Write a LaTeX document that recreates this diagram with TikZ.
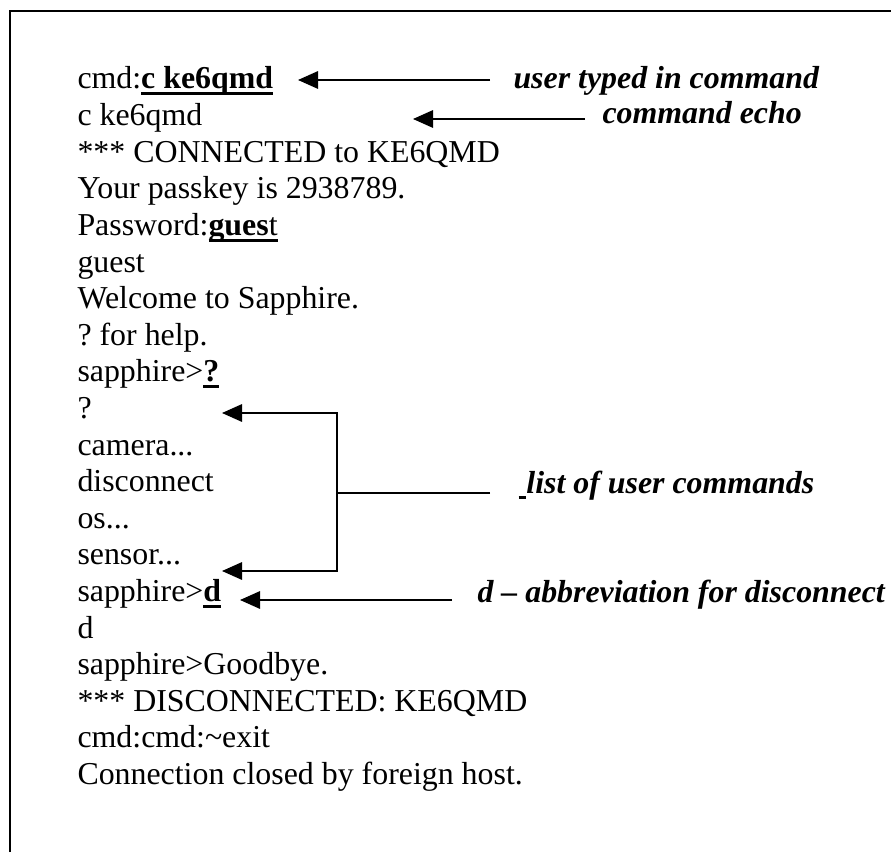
\documentclass[tikz,border=0pt]{standalone}
\usepackage{fontspec}
\setmainfont{Liberation Serif}
\usetikzlibrary{arrows.meta}
\frenchspacing
% heavy underline that runs through descenders
\newcommand\wul[1]{\setbox0\hbox{#1}\rlap{\rule[-2.5pt]{\wd0}{1.25pt}}\box0}
\begin{document}
\begin{tikzpicture}[x=0.4pt,y=-0.4pt,
  line/.style={anchor=base west,inner sep=0pt,font=\fontsize{12.75pt}{15pt}\selectfont},
  note/.style={line,font=\fontsize{12.75pt}{15pt}\selectfont\bfseries\itshape},
  arr/.style={line width=0.6pt,-{Triangle[length=8pt,width=7pt]}},
  link/.style={line width=0.6pt},
  frame/.style={line width=0.8pt}]
\useasboundingbox (0,0) rectangle (891,852);
\draw[frame] (10,852) -- (10,11.5) -- (891,11.5);

% terminal session
\node[line] (l0)  at (77,89)    {cmd:\wul{\textbf{c ke6qmd}}};
\node[line] (l1)  at (77,125.6) {c ke6qmd};
\node[line] (l2)  at (77,162.2) {*** CONNECTED to KE6QMD};
\node[line] (l3)  at (77,198.8) {Your passkey is 2938789.};
\node[line] (l4)  at (77,235.4) {Password:\wul{\textbf{gues}t}};
\node[line] (l5)  at (77,272)   {guest};
\node[line] (l6)  at (77,308.6) {Welcome to Sapphire.};
\node[line] (l7)  at (77,345.2) {? for help.};
\node[line] (l8)  at (77,381.8) {sapphire>\wul{\textbf{?}}};
\node[line] (l9)  at (77,418.4) {?};
\node[line] (l10) at (77,455)   {camera...};
\node[line] (l11) at (77,491.6) {disconnect};
\node[line] (l12) at (77,528.2) {os...};
\node[line] (l13) at (77,564.8) {sensor...};
\node[line] (l14) at (77,601.4) {sapphire>\wul{\textbf{d}}};
\node[line] (l15) at (77,638)   {d};
\node[line] (l16) at (77,674.6) {sapphire>Goodbye.};
\node[line] (l17) at (77,711.2) {*** DISCONNECTED: KE6QMD};
\node[line] (l18) at (77,747.8) {cmd:cmd:\textasciitilde exit};
\node[line] (l19) at (77,784.4) {Connection closed by foreign host.};

% annotations
\node[note] (n0) at (513,89)  {user typed in command};
\node[note] (n1) at (602,124) {command echo};
\node[note] (n2) at (518,493) {\wul{\ }list of user commands};
\node[note] (n3) at (477,602) {d -- abbreviation for disconnect};

% arrow tips and bracket junction
\coordinate (a0) at (298,80);
\coordinate (a1) at (413,119);
\coordinate (b9) at (222,413);
\coordinate (b13) at (222,571);
\coordinate (jn) at (337,493);
\coordinate (a3) at (240,600);

\draw[arr] ([xshift=-9.2pt]n0.west |- a0) -- (a0);
\draw[arr] ([xshift=-6.8pt]n1.west |- a1) -- (a1);
\draw[arr] (jn) |- (b9);
\draw[arr] (jn) |- (b13);
\draw[link] ([xshift=-11.2pt]n2.west |- jn) -- (jn);
\draw[arr] ([xshift=-10pt]n3.west |- a3) -- (a3);
\end{tikzpicture}
\end{document}
